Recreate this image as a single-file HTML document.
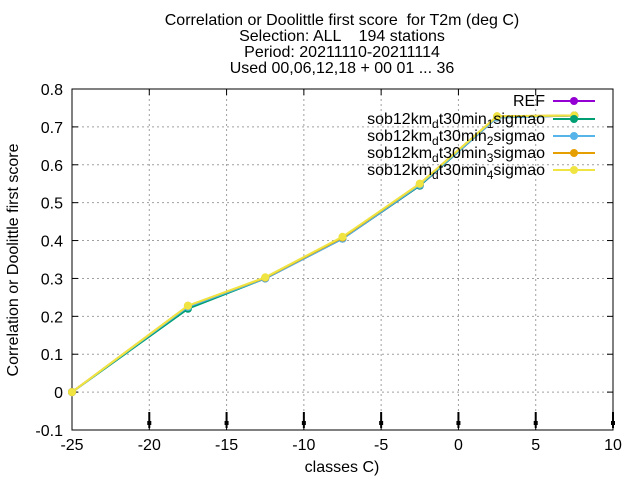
<!DOCTYPE html>
<html><head><meta charset="utf-8"><style>
body{margin:0;background:#fff}
svg{display:block;font-family:"Liberation Sans",sans-serif}
.pre{white-space:pre}
</style></head><body>
<svg id="chart" width="640" height="480">
<g font-size="16" text-anchor="middle">
<text class="pre" xml:space="preserve" x="342" y="25">Correlation or Doolittle first score  for T2m (deg C)</text>
<text class="pre" xml:space="preserve" x="342" y="41">Selection: ALL    194 stations</text>
<text x="342" y="57">Period: 20211110-20211114</text>
<text x="342" y="73">Used 00,06,12,18 + 00 01 ... 36</text>
</g>
<g id="grid"></g>
<g id="axes"></g>
<g id="series"></g>
<g id="legend"></g>
<text x="342" y="472" font-size="16" text-anchor="middle">classes C)</text>
<text transform="translate(18,260) rotate(-90)" font-size="16" text-anchor="middle">Correlation or Doolittle first score</text>
</svg>
<script>
const xTicks=[-25,-20,-15,-10,-5,0,5,10];
const yTicks=[-0.1,0,0.1,0.2,0.3,0.4,0.5,0.6,0.7,0.8];
const yTickLabels=["-0.1","0","0.1","0.2","0.3","0.4","0.5","0.6","0.7","0.8"];
const classes=[-25,-17.5,-12.5,-7.5,-2.5,2.5,7.5];
const seriesNames=["REF","sob12km_d t30min_1 sigmao","sob12km_d t30min_2 sigmao","sob12km_d t30min_3 sigmao","sob12km_d t30min_4 sigmao"];
const seriesColors=["#9400d3","#009e73","#56b4e9","#e69f00","#f0e442"];
const ref=[0,0.225,0.3,0.405,0.545,0.725,0.73];
const s1=[0,0.22,0.3,0.405,0.545,0.725,0.73];
const s2=[0,0.225,0.3,0.405,0.547,0.725,0.73];
const s3=[0,0.228,0.302,0.408,0.55,0.728,0.73];
const s4=[0,0.228,0.303,0.41,0.55,0.728,0.73];
const seriesData=[ref,s1,s2,s3,s4];
const countMarks=[-20,-15,-10,-5,0,5,10];
const X0=72,X1=613,Y0=89,Y1=430;
const xs=v=>X0+(v+25)/35*(X1-X0);
const ys=v=>Y0+(0.8-v)/0.9*(Y1-Y0);
const NS="http://www.w3.org/2000/svg";
function mk(t,a,p){const e=document.createElementNS(NS,t);for(const k in a)e.setAttribute(k,a[k]);p.appendChild(e);return e;}
const grid=document.getElementById('grid'),axes=document.getElementById('axes'),ser=document.getElementById('series'),leg=document.getElementById('legend');
xTicks.forEach(t=>{
 const g=mk('line',{x1:xs(t),x2:xs(t),y1:Y0,y2:Y1,stroke:'#a0a0a0','stroke-dasharray':'2,3'},grid);
 
 
 mk('line',{x1:xs(t),x2:xs(t),y1:Y1,y2:Y1-6,stroke:'#000'},axes);
 mk('line',{x1:xs(t),x2:xs(t),y1:Y0,y2:Y0+6,stroke:'#000'},axes);
 const l=mk('text',{x:xs(t),y:Y1+20,'font-size':16,'text-anchor':'middle'},axes);
 l.textContent=t;
 
 
});
yTicks.forEach((t,i)=>{
 const g=mk('line',{x1:X0,x2:X1,y1:ys(t),y2:ys(t),stroke:'#a0a0a0','stroke-dasharray':'2,3'},grid);
 
 
 mk('line',{x1:X0,x2:X0+6,y1:ys(t),y2:ys(t),stroke:'#000'},axes);
 mk('line',{x1:X1,x2:X1-6,y1:ys(t),y2:ys(t),stroke:'#000'},axes);
 const l=mk('text',{x:X0-9,y:ys(t)+6,'font-size':16,'text-anchor':'end'},axes);
 l.textContent=yTickLabels[i];
 
 
});
mk('rect',{x:X0,y:Y0,width:X1-X0,height:Y1-Y0,fill:'none',stroke:'#000'},axes);
countMarks.forEach(t=>{
 const m=mk('line',{x1:xs(t),x2:xs(t),y1:412,y2:428,stroke:'#000','stroke-width':2},axes);
 
 
 mk('rect',{x:xs(t)-2,y:421,width:4,height:4,fill:'#000'},axes);
});
seriesData.forEach((d,si)=>{
 const pts=d.map((v,i)=>xs(classes[i])+','+ys(v)).join(' ');
 const p=mk('polyline',{points:pts,fill:'none',stroke:seriesColors[si],'stroke-width':2},ser);
 
 
 d.forEach((v,i)=>{
  const c=mk('circle',{cx:xs(classes[i]),cy:ys(v),r:4,fill:seriesColors[si]},ser);
  
  
 });
});
const legY=[101,119,136,153,170];
const names=[["REF"],["sob12km","d","t30min","1","sigmao"],["sob12km","d","t30min","2","sigmao"],["sob12km","d","t30min","3","sigmao"],["sob12km","d","t30min","4","sigmao"]];
names.forEach((n,i)=>{
 const e=mk('g',{},leg);
 
 
 const t=mk('text',{x:545,y:legY[i]+5,'font-size':16,'text-anchor':'end'},e);
 if(n.length==1)t.textContent=n[0];
 else{
  [[n[0],0],[n[1],4],[n[2],0],[n[3],4],[n[4],0]].forEach(([s,dy],k)=>{
   const ts=mk('tspan',{},t);ts.textContent=s;
   if(dy){ts.setAttribute('font-size','12');ts.setAttribute('dy','4');}
   else if(k>0){ts.setAttribute('dy','-4');}
  });
 }
 mk('line',{x1:553,x2:595,y1:legY[i],y2:legY[i],stroke:seriesColors[i],'stroke-width':2},e);
 mk('circle',{cx:574,cy:legY[i],r:4,fill:seriesColors[i]},e);
});
</script>
</body></html>
